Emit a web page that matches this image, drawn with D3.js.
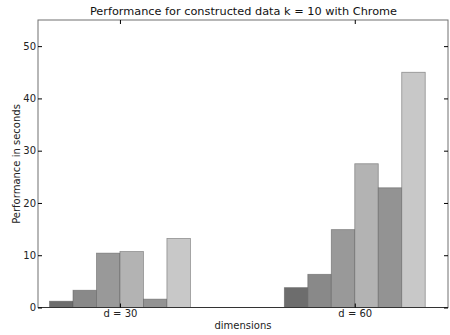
<!DOCTYPE html>
<html><head><meta charset="utf-8">
<script src="https://cdn.jsdelivr.net/npm/d3@7"></script>
<style>body{margin:0;background:#fff}svg{display:block}text{font-family:"DejaVu Sans",sans-serif}</style>
</head><body>
<svg id="c" width="450" height="335"></svg>
<script>
const categories = ["d = 30", "d = 60"];
const series1 = [1.2, 3.8];
const series2 = [3.3, 6.35];
const series3 = [10.4, 14.9];
const series4 = [10.7, 27.5];
const series5 = [1.6, 22.9];
const series6 = [13.2, 45.0];
const yTicks = [0, 10, 20, 30, 40, 50];
const allSeries = [series1, series2, series3, series4, series5, series6];
const colors = ["#6d6d6d", "#898989", "#999999", "#b3b3b3", "#939393", "#c8c8c8"];

const svg = d3.select("#c");
const L = 38, R = 448, T = 20, B = 307.5;
const x = d3.scaleLinear().domain([-0.349, 1.397]).range([L, R]);
const y = d3.scaleLinear().domain([0, 55]).range([B, T]);
const bw = 0.1;

allSeries.forEach((s, i) => {
  svg.append("g").selectAll("rect").data(s).join("rect")
    .attr("x", (d, j) => x(j - 0.3 + i * bw))
    .attr("width", x(bw) - x(0))
    .attr("y", d => y(d))
    .attr("height", d => y(0) - y(d))
    .attr("fill", colors[i])
    .attr("stroke", "#5a5a5a")
    .attr("stroke-opacity", 0.6)
    .attr("stroke-width", 0.8);
});

// frame
svg.append("rect").attr("x", L).attr("y", T).attr("width", R - L).attr("height", B - T)
  .attr("fill", "none").attr("stroke", "#707070").attr("stroke-width", 1);
svg.append("line").attr("x1", L).attr("x2", R).attr("y1", B).attr("y2", B).attr("stroke", "#333").attr("stroke-width", 1);

// axes
const yAx = d3.axisLeft(y).tickValues(yTicks).tickSizeInner(-4).tickSizeOuter(0).tickPadding(2);
const gy = svg.append("g").attr("transform", `translate(${L},0)`).call(yAx);
gy.select(".domain").remove();
gy.selectAll("text").attr("font-size", 10).attr("fill", "#222");
const yAxR = d3.axisRight(y).tickValues(yTicks).tickSizeInner(-4).tickSizeOuter(0).tickFormat("");
const gyr = svg.append("g").attr("transform", `translate(${R},0)`).call(yAxR);
gyr.select(".domain").remove();

const xAx = d3.axisBottom(x).tickValues([0, 1]).tickFormat((d, i) => categories[i]).tickSizeInner(-4).tickSizeOuter(0).tickPadding(2);
const gx = svg.append("g").attr("transform", `translate(0,${B})`).call(xAx);
gx.select(".domain").remove();
gx.selectAll("text").attr("font-size", 10).attr("fill", "#222");
const xAxT = d3.axisTop(x).tickValues([0, 1]).tickFormat("").tickSizeInner(-4).tickSizeOuter(0);
const gxt = svg.append("g").attr("transform", `translate(0,${T})`).call(xAxT);
gxt.select(".domain").remove();

svg.append("text").attr("x", 243.5).attr("y", 15).attr("text-anchor", "middle")
  .attr("font-size", 11.3).attr("fill", "#111").text("Performance for constructed data k = 10 with Chrome");
svg.append("text").attr("x", 243).attr("y", 329).attr("text-anchor", "middle")
  .attr("font-size", 10).attr("fill", "#222").text("dimensions");
svg.append("text").attr("transform", "translate(20,164) rotate(-90)").attr("text-anchor", "middle")
  .attr("font-size", 10).attr("fill", "#222").text("Performance in seconds");
</script>
</body></html>
